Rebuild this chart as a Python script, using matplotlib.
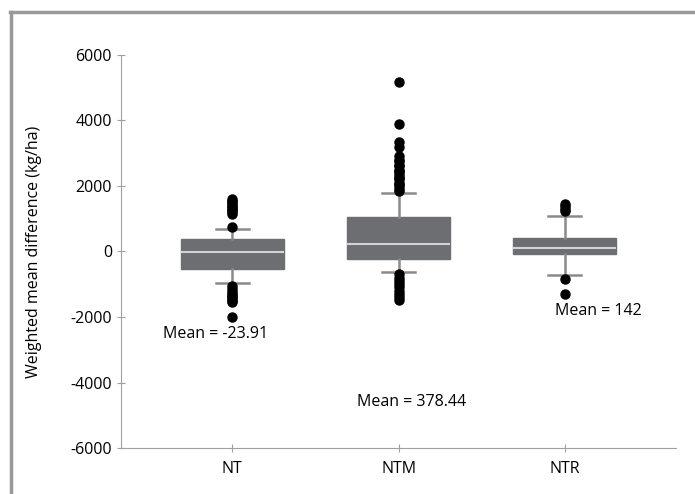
import matplotlib.pyplot as plt
from matplotlib.lines import Line2D

plt.rcParams['font.family'] = ['Open Sans', 'DejaVu Sans']
plt.rcParams['axes.unicode_minus'] = False

groups = ["NT", "NTM", "NTR"]
q1 = [-550, -240, -90]
med = [-30, 240, 90]
q3 = [366, 1040, 400]
whislo = [-950, -640, -730]
whishi = [700, 1770, 1070]
fliers = [
    [760, 1150, 1200, 1250, 1300, 1350, 1400, 1450, 1500, 1550, 1590,
     -1050, -1150, -1250, -1300, -1350, -1400, -1450, -1500, -1550, -1990],
    [1850, 1900, 2000, 2050, 2100, 2200, 2250, 2300, 2400, 2450, 2500,
     2600, 2650, 2750, 2800, 2900, 3200, 3350, 3880, 5160,
     -700, -800, -900, -1000, -1100, -1200, -1300, -1400, -1470],
    [1220, 1300, 1380, 1440, -830, -1310],
]
means = [-23.91, 378.44, 142]
mean_label_y = [-2530, -4580, -1830]
mean_label_x = [0.9, 2.08, 3.2]

fig = plt.figure(figsize=(6.95, 4.94), dpi=100)
ax = fig.add_axes([0.174, 0.093, 0.799, 0.796])

stats = []
for i, g in enumerate(groups):
    stats.append(dict(label=g, q1=q1[i], med=med[i], q3=q3[i],
                      whislo=whislo[i], whishi=whishi[i], fliers=fliers[i]))

ax.bxp(stats, positions=[1, 2, 3], widths=0.62, capwidths=0.2,
       patch_artist=True, showfliers=True,
       boxprops=dict(facecolor="#6d6e71", edgecolor="#6d6e71", linewidth=1),
       medianprops=dict(color="#d4d4d4", linewidth=1.5),
       whiskerprops=dict(color="#8a8a8a", linewidth=1.8),
       capprops=dict(color="#8a8a8a", linewidth=1.8),
       flierprops=dict(marker="o", markerfacecolor="black", markeredgecolor="black",
                       markersize=6.5))

for i, m in enumerate(means):
    ax.text(mean_label_x[i], mean_label_y[i], f"Mean = {m:g}", ha="center", va="center",
            fontsize=11.5)

ax.set_xlim(0.33, 3.67)
ax.set_ylim(-6000, 6000)
ax.set_yticks(range(-6000, 6001, 2000))
ax.set_xticks([1, 2, 3])
ax.set_xticklabels(groups)
ax.tick_params(axis="both", direction="inout", length=6, color="#a0a0a0", labelsize=11.5)
ax.tick_params(axis="x", pad=6)
ax.set_ylabel("Weighted mean difference (kg/ha)", fontsize=11.5, labelpad=20)

for s in ["top", "right"]:
    ax.spines[s].set_visible(False)
for s in ["left", "bottom"]:
    ax.spines[s].set_color("#a0a0a0")

# outer grey frame (left and top edges)
fig.add_artist(Line2D([0.016, 0.016], [0.0, 0.976], color="#999999", linewidth=2.5,
                      transform=fig.transFigure))
fig.add_artist(Line2D([0.015, 1.0], [0.976, 0.976], color="#999999", linewidth=2.5,
                      transform=fig.transFigure))

fig.savefig("out.png", dpi=100)
